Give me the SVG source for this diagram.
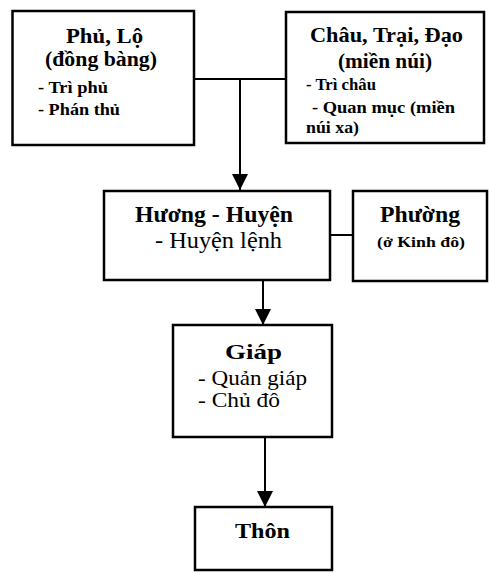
<svg xmlns="http://www.w3.org/2000/svg" width="489" height="573" viewBox="0 0 489 573">
<style>
.box{fill:#fff;stroke:#000;stroke-width:2.5}
.ln{fill:none;stroke:#000;stroke-width:2}
text{font-family:"Liberation Serif","Times New Roman",serif;fill:#000}
.h{font-weight:bold;font-size:21px}
.hb{font-weight:bold;font-size:24px}
.s{font-weight:bold;font-size:17px}
.ss{font-weight:bold;font-size:15px}
.r{font-size:21px}
.rb{font-size:23px}
.m{text-anchor:middle}
</style>
<defs>
<marker id="arb" markerWidth="16" markerHeight="16" refX="16" refY="8" orient="auto" markerUnits="userSpaceOnUse" viewBox="0 0 16 16">
<path d="M0,0 L16,8 L0,16 z" fill="#000"/>
</marker>
</defs>
<g id="connectors">
<path class="ln" d="M194,79 H286"/>
<path class="ln" d="M240,79 V190" marker-end="url(#arb)"/>
<path class="ln" d="M330,235 H353"/>
<path class="ln" d="M263,280 V325" marker-end="url(#arb)"/>
<path class="ln" d="M265,437 V507" marker-end="url(#arb)"/>
</g>
<g id="phu-lo">
<rect class="box" x="12.5" y="11" width="181.5" height="134"/>
<text class="h m" x="104.5" y="43" textLength="77" lengthAdjust="spacingAndGlyphs">Phủ, Lộ</text>
<text class="h m" x="101" y="66" textLength="112" lengthAdjust="spacingAndGlyphs">(đồng bàng)</text>
<text class="s" x="38" y="93" textLength="70" lengthAdjust="spacingAndGlyphs">- Trì phủ</text>
<text class="s" x="38" y="115" textLength="82" lengthAdjust="spacingAndGlyphs">- Phán thủ</text>
</g>
<g id="chau-trai-dao">
<rect class="box" x="286" y="12" width="198" height="131"/>
<text class="h m" x="386.5" y="42" textLength="153" lengthAdjust="spacingAndGlyphs">Châu, Trại, Đạo</text>
<text class="h m" x="385" y="68" textLength="94" lengthAdjust="spacingAndGlyphs">(miền núi)</text>
<text class="s" x="306" y="90" textLength="70" lengthAdjust="spacingAndGlyphs">- Trì châu</text>
<text class="s" x="312" y="113" textLength="143" lengthAdjust="spacingAndGlyphs">- Quan mục (miền</text>
<text class="s" x="306" y="133" textLength="53" lengthAdjust="spacingAndGlyphs">núi xa)</text>
</g>
<g id="huong-huyen">
<rect class="box" x="104" y="191" width="226" height="89"/>
<text class="hb m" x="214" y="222" textLength="158" lengthAdjust="spacingAndGlyphs">Hương - Huyện</text>
<text class="rb m" x="218.5" y="248" textLength="127" lengthAdjust="spacingAndGlyphs">- Huyện lệnh</text>
</g>
<g id="phuong">
<rect class="box" x="353" y="191" width="134" height="90"/>
<text class="hb m" x="420" y="222" textLength="80" lengthAdjust="spacingAndGlyphs">Phường</text>
<text class="ss m" x="421" y="247" textLength="88" lengthAdjust="spacingAndGlyphs">(ở Kinh đô)</text>
</g>
<g id="giap">
<rect class="box" x="173" y="325" width="159" height="112"/>
<text class="h m" x="253.5" y="359" textLength="57" lengthAdjust="spacingAndGlyphs">Giáp</text>
<text class="r" x="198" y="385" textLength="109" lengthAdjust="spacingAndGlyphs">- Quản giáp</text>
<text class="r" x="198" y="407" textLength="82" lengthAdjust="spacingAndGlyphs">- Chủ đô</text>
</g>
<g id="thon">
<rect class="box" x="195" y="507" width="137" height="63"/>
<text class="h m" x="262.5" y="538" textLength="55" lengthAdjust="spacingAndGlyphs">Thôn</text>
</g>
</svg>
